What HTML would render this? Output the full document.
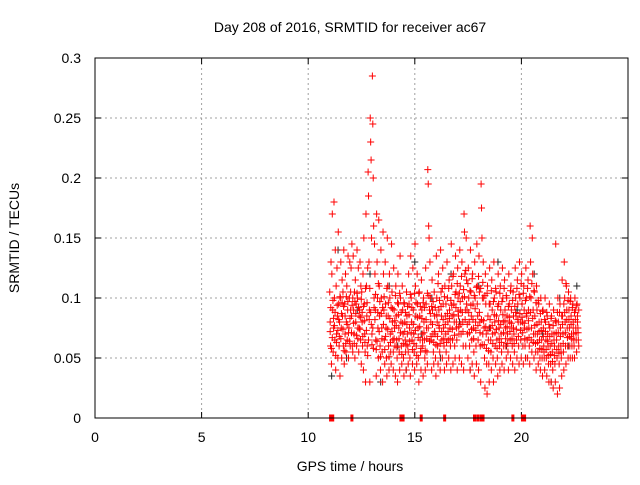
<!DOCTYPE html>
<html><head><meta charset="utf-8"><style>
body{margin:0;background:#fff;}
svg text{font-family:"Liberation Sans",sans-serif;font-size:14px;fill:#000;}
</style></head><body>
<svg id="chart" width="640" height="480">
<text x="350" y="32" text-anchor="middle">Day 208 of 2016, SRMTID for receiver ac67</text>
<text transform="translate(19,238) rotate(-90)" text-anchor="middle">SRMTID / TECUs</text>
<text x="350" y="471" text-anchor="middle">GPS time / hours</text>
<g id="grid"></g><g id="ticks"></g><g id="pts"></g>
<rect x="95" y="58" width="533" height="360" fill="none" stroke="#000"/>
</svg>
<script>
const xTicks=[0,5,10,15,20];
const yTicks=[0,0.05,0.1,0.15,0.2,0.25,0.3];
const yTickLabels=["0","0.05","0.1","0.15","0.2","0.25","0.3"];
const redTimes=[11.05,11.15,11.25,11.35,11.45,11.55,11.65,11.75,11.85,11.95,12.05,12.15,12.25,12.35,12.45,12.55,12.65,12.75,12.85,12.95,13.05,13.15,13.25,13.35,13.45,13.55,13.65,13.75,13.85,13.95,14.05,14.15,14.25,14.35,14.45,14.55,14.65,14.75,14.85,14.95,15.05,15.15,15.25,15.35,15.45,15.55,15.65,15.75,15.85,15.95,16.05,16.15,16.25,16.35,16.45,16.55,16.65,16.75,16.85,16.95,17.05,17.15,17.25,17.35,17.45,17.55,17.65,17.75,17.85,17.95,18.05,18.15,18.25,18.35,18.45,18.55,18.65,18.75,18.85,18.95,19.05,19.15,19.25,19.35,19.45,19.55,19.65,19.75,19.85,19.95,20.05,20.15,20.25,20.35,20.45,20.55,20.65,20.75,20.85,20.95,21.05,21.15,21.25,21.35,21.45,21.55,21.65,21.75,21.85,21.95,22.05,22.15,22.25,22.35,22.45,22.55,22.65];
const redValues=[
[0.105,0.08,0.06,0.13,0.045],[0.12,0.17,0.09,0.055,0.075],[0.18,0.1,0.065,0.14,0.04],[0.11,0.07,0.125,0.085,0.05],[0.155,0.095,0.06,0.08,0.035],
[0.1,0.13,0.075,0.05,0.115],[0.085,0.105,0.06,0.14,0.045],[0.095,0.07,0.12,0.055,0.08],[0.11,0.065,0.09,0.135,0.05],[0.075,0.1,0.13,0.06,0.09],
[0.125,0.085,0.145,0.06,0.1],[0.135,0.09,0.07,0.105,0.05],[0.115,0.08,0.095,0.06,0.14],[0.1,0.075,0.125,0.055,0.085],[0.09,0.13,0.065,0.11,0.045],
[0.105,0.08,0.06,0.12,0.04],[0.15,0.095,0.07,0.055,0.03],[0.17,0.11,0.085,0.06,0.125],[0.205,0.185,0.13,0.09,0.03],[0.25,0.23,0.215,0.15,0.07],
[0.285,0.245,0.2,0.16,0.1],[0.145,0.12,0.09,0.065,0.035],[0.17,0.13,0.1,0.075,0.05],[0.165,0.11,0.085,0.06,0.04],[0.14,0.1,0.075,0.055,0.03],
[0.155,0.12,0.09,0.065,0.045],[0.13,0.095,0.075,0.05,0.035],[0.15,0.11,0.085,0.06,0.04],[0.12,0.1,0.07,0.055,0.045],[0.145,0.105,0.08,0.065,0.04],
[0.125,0.09,0.075,0.06,0.035],[0.11,0.085,0.065,0.05,0.03],[0.12,0.095,0.075,0.055,0.04],[0.135,0.1,0.08,0.06,0.045],[0.11,0.09,0.07,0.05,0.035],
[0.095,0.08,0.065,0.055,0.04],[0.105,0.085,0.07,0.06,0.045],[0.12,0.095,0.075,0.05,0.035],[0.135,0.1,0.08,0.065,0.045],[0.125,0.09,0.07,0.055,0.04],
[0.145,0.11,0.085,0.06,0.045],[0.12,0.095,0.075,0.05,0.03],[0.105,0.085,0.065,0.055,0.04],[0.115,0.09,0.07,0.06,0.035],[0.1,0.08,0.065,0.05,0.04],
[0.125,0.095,0.075,0.055,0.045],[0.207,0.195,0.16,0.15,0.09],[0.13,0.1,0.08,0.065,0.04],[0.115,0.09,0.07,0.055,0.045],[0.105,0.085,0.07,0.05,0.035],
[0.135,0.1,0.08,0.06,0.045],[0.12,0.09,0.075,0.055,0.04],[0.14,0.105,0.085,0.065,0.05],[0.125,0.095,0.075,0.06,0.04],[0.11,0.085,0.07,0.055,0.045],
[0.13,0.1,0.08,0.065,0.05],[0.115,0.09,0.075,0.06,0.04],[0.145,0.11,0.085,0.065,0.045],[0.12,0.095,0.08,0.06,0.05],[0.135,0.105,0.08,0.065,0.04],
[0.125,0.1,0.085,0.07,0.05],[0.14,0.11,0.09,0.07,0.045],[0.13,0.1,0.08,0.06,0.04],[0.17,0.155,0.12,0.09,0.06],[0.15,0.115,0.09,0.07,0.05],
[0.125,0.1,0.08,0.06,0.04],[0.14,0.105,0.085,0.065,0.045],[0.12,0.095,0.075,0.055,0.035],[0.13,0.1,0.08,0.06,0.045],[0.145,0.11,0.085,0.065,0.04],
[0.135,0.105,0.08,0.06,0.03],[0.195,0.175,0.15,0.1,0.07],[0.13,0.1,0.075,0.05,0.025],[0.12,0.095,0.07,0.045,0.02],[0.11,0.085,0.065,0.045,0.03],
[0.125,0.095,0.075,0.055,0.04],[0.115,0.09,0.07,0.05,0.03],[0.13,0.1,0.08,0.06,0.045],[0.105,0.085,0.065,0.05,0.035],[0.12,0.095,0.075,0.06,0.04],
[0.11,0.09,0.07,0.055,0.045],[0.125,0.1,0.08,0.06,0.04],[0.115,0.09,0.075,0.06,0.05],[0.1,0.085,0.07,0.055,0.04],[0.12,0.095,0.08,0.065,0.05],
[0.11,0.09,0.075,0.06,0.045],[0.105,0.085,0.07,0.055,0.04],[0.125,0.1,0.085,0.065,0.05],[0.115,0.095,0.08,0.06,0.045],[0.13,0.1,0.08,0.065,0.05],
[0.12,0.095,0.08,0.06,0.045],[0.11,0.09,0.075,0.06,0.05],[0.125,0.1,0.085,0.065,0.05],[0.115,0.09,0.075,0.06,0.045],[0.16,0.13,0.1,0.075,0.055],
[0.15,0.12,0.09,0.07,0.05],[0.105,0.085,0.07,0.055,0.04],[0.11,0.09,0.07,0.055,0.045],[0.095,0.08,0.065,0.05,0.04],[0.1,0.08,0.065,0.05,0.035],
[0.09,0.075,0.06,0.05,0.04],[0.1,0.08,0.065,0.05,0.035],[0.085,0.07,0.06,0.045,0.03],[0.095,0.075,0.06,0.045,0.03],[0.085,0.07,0.055,0.04,0.025],
[0.09,0.07,0.06,0.045,0.03],[0.145,0.08,0.065,0.05,0.02],[0.1,0.08,0.06,0.045,0.025],[0.095,0.075,0.06,0.05,0.035],[0.115,0.085,0.07,0.055,0.04],
[0.13,0.1,0.08,0.06,0.045],[0.11,0.09,0.075,0.06,0.05],[0.105,0.09,0.075,0.06,0.05],[0.1,0.085,0.07,0.06,0.05],[0.095,0.08,0.07,0.06,0.05],
[0.1,0.09,0.075,0.065,0.055],[0.095,0.085,0.075,0.065,0.06]];
const redExtra=[
[0.072,0.092,0.058],[0.067,0.098,0.083],[0.077,0.088,0.052],[0.063,0.094,0.073],[0.082,0.068,0.101],
[0.066,0.087,0.096],[0.074,0.093,0.056],[0.085,0.062,0.101],[0.078,0.097,0.071],[0.064,0.083,0.105],
[0.071,0.094,0.055],[0.079,0.062,0.097],[0.087,0.069,0.104],[0.066,0.092,0.075],[0.074,0.084,0.099],
[0.088,0.068,0.093],[0.081,0.063,0.108],[0.073,0.096,0.052],[0.065,0.082,0.108],[0.088,0.078,0.061],
[0.075,0.058,0.092],[0.082,0.103,0.057],[0.064,0.088,0.112],[0.072,0.097,0.051],[0.087,0.066,0.092],
[0.078,0.101,0.057],[0.068,0.085,0.108],[0.074,0.096,0.051],[0.083,0.063,0.092],[0.072,0.091,0.055],
[0.066,0.081,0.102],[0.077,0.059,0.096],[0.086,0.066,0.104],[0.071,0.088,0.053],[0.079,0.062,0.096],
[0.072,0.088,0.061],[0.078,0.093,0.055],[0.086,0.064,0.103],[0.071,0.092,0.057],[0.078,0.062,0.104],
[0.073,0.096,0.052],[0.084,0.067,0.104],[0.076,0.093,0.058],[0.083,0.065,0.096],[0.071,0.092,0.056],
[0.082,0.066,0.104],[0.075,0.102,0.064],[0.087,0.068,0.093],[0.078,0.097,0.063],[0.072,0.092,0.061],
[0.086,0.068,0.112],[0.077,0.098,0.062],[0.093,0.072,0.108],[0.082,0.066,0.101],[0.078,0.095,0.063],
[0.087,0.072,0.108],[0.083,0.066,0.098],[0.094,0.074,0.118],[0.086,0.069,0.103],[0.092,0.075,0.112],
[0.089,0.076,0.104],[0.097,0.078,0.118],[0.088,0.072,0.107],[0.101,0.082,0.123],[0.095,0.078,0.112],
[0.088,0.071,0.106],[0.094,0.074,0.116],[0.082,0.066,0.102],[0.091,0.073,0.109],[0.095,0.077,0.118],
[0.088,0.071,0.108],[0.082,0.061,0.113],[0.081,0.061,0.102],[0.076,0.058,0.104],[0.073,0.056,0.095],
[0.082,0.065,0.106],[0.077,0.062,0.097],[0.086,0.071,0.108],[0.074,0.058,0.093],[0.081,0.066,0.104],
[0.078,0.063,0.097],[0.086,0.071,0.108],[0.081,0.066,0.102],[0.076,0.062,0.093],[0.084,0.072,0.106],
[0.079,0.066,0.098],[0.075,0.062,0.093],[0.088,0.074,0.108],[0.082,0.068,0.103],[0.087,0.073,0.112],
[0.084,0.071,0.104],[0.079,0.066,0.098],[0.087,0.074,0.108],[0.081,0.067,0.101],[0.088,0.065,0.112],
[0.083,0.063,0.106],[0.077,0.062,0.096],[0.078,0.063,0.098],[0.072,0.058,0.087],[0.073,0.057,0.089],
[0.068,0.055,0.082],[0.072,0.057,0.088],[0.064,0.052,0.078],[0.068,0.053,0.083],[0.062,0.047,0.077],
[0.065,0.052,0.081],[0.071,0.057,0.088],[0.071,0.054,0.088],[0.068,0.055,0.085],[0.078,0.062,0.095],
[0.088,0.071,0.112],[0.082,0.067,0.098],[0.082,0.068,0.097],[0.078,0.066,0.092],[0.075,0.065,0.088],
[0.082,0.071,0.094],[0.08,0.071,0.09]];
const blackTimes=[11.1,11.4,11.8,12.3,12.9,13.4,13.8,14.2,14.6,15.0,15.3,15.8,16.2,16.7,17.1,17.6,18.0,18.5,18.9,19.3,19.8,20.2,20.6,21.0,21.4,21.8,22.2,22.6];
const blackValues=[0.035,0.14,0.05,0.09,0.12,0.03,0.11,0.06,0.04,0.13,0.07,0.1,0.05,0.12,0.08,0.04,0.11,0.075,0.13,0.06,0.09,0.05,0.12,0.07,0.03,0.1,0.06,0.11];
const zeroTimes=[11.05,11.15,12.05,14.35,14.45,15.3,16.4,17.8,17.95,18.1,18.2,19.6,20.05,20.15];

const X=v=>95+v*533/25, Y=v=>418-v*1200;
const NS="http://www.w3.org/2000/svg";
function mk(tag,attrs,parent){const e=document.createElementNS(NS,tag);for(const k in attrs)e.setAttribute(k,attrs[k]);parent.appendChild(e);return e;}
const grid=document.getElementById('grid'),ticks=document.getElementById('ticks'),pts=document.getElementById('pts');
xTicks.forEach(t=>{
  if(t>0){const g=mk('line',{x1:X(t),x2:X(t),y1:58,y2:418,stroke:'#a0a0a0','stroke-dasharray':'2,3'},grid);
  
  }
  mk('line',{x1:X(t),x2:X(t),y1:418,y2:412,stroke:'#000'},ticks);
  mk('line',{x1:X(t),x2:X(t),y1:58,y2:64,stroke:'#000'},ticks);
  const l=mk('text',{x:X(t),y:442,'text-anchor':'middle'},ticks);l.textContent=t;
  
  
});
yTicks.forEach((t,i)=>{
  if(t>0&&t<0.3){const g=mk('line',{x1:95,x2:628,y1:Y(t),y2:Y(t),stroke:'#a0a0a0','stroke-dasharray':'2,3'},grid);
  
  }
  mk('line',{x1:95,x2:101,y1:Y(t),y2:Y(t),stroke:'#000'},ticks);
  mk('line',{x1:628,x2:622,y1:Y(t),y2:Y(t),stroke:'#000'},ticks);
  const l=mk('text',{x:81,y:Y(t)+5,'text-anchor':'end'},ticks);l.textContent=yTickLabels[i];
  
  
});
function plus(x,y,c){const p=mk('path',{d:`M${x-3.5} ${y}h7M${x} ${y-3.5}v7`,stroke:c,'stroke-width':1,fill:'none'},pts);return p;}
blackTimes.forEach((t,i)=>{const p=plus(X(t),Y(blackValues[i]),'#222');
  
  });
redTimes.forEach((t,i)=>{redValues[i].forEach((v,j)=>{const p=plus(X(t+(j-2)*0.02),Y(v),'#ff0000');
  
  });});
redTimes.forEach((t,i)=>{redExtra[i].forEach((v,j)=>{const p=plus(X(t+(j-1)*0.03+0.01),Y(v),'#ff0000');
  
  });});
zeroTimes.forEach(t=>{const p=mk('rect',{x:X(t)-1.5,y:414.5,width:3,height:7,fill:'#ff0000'},pts);
  
  });
</script>
</body></html>
